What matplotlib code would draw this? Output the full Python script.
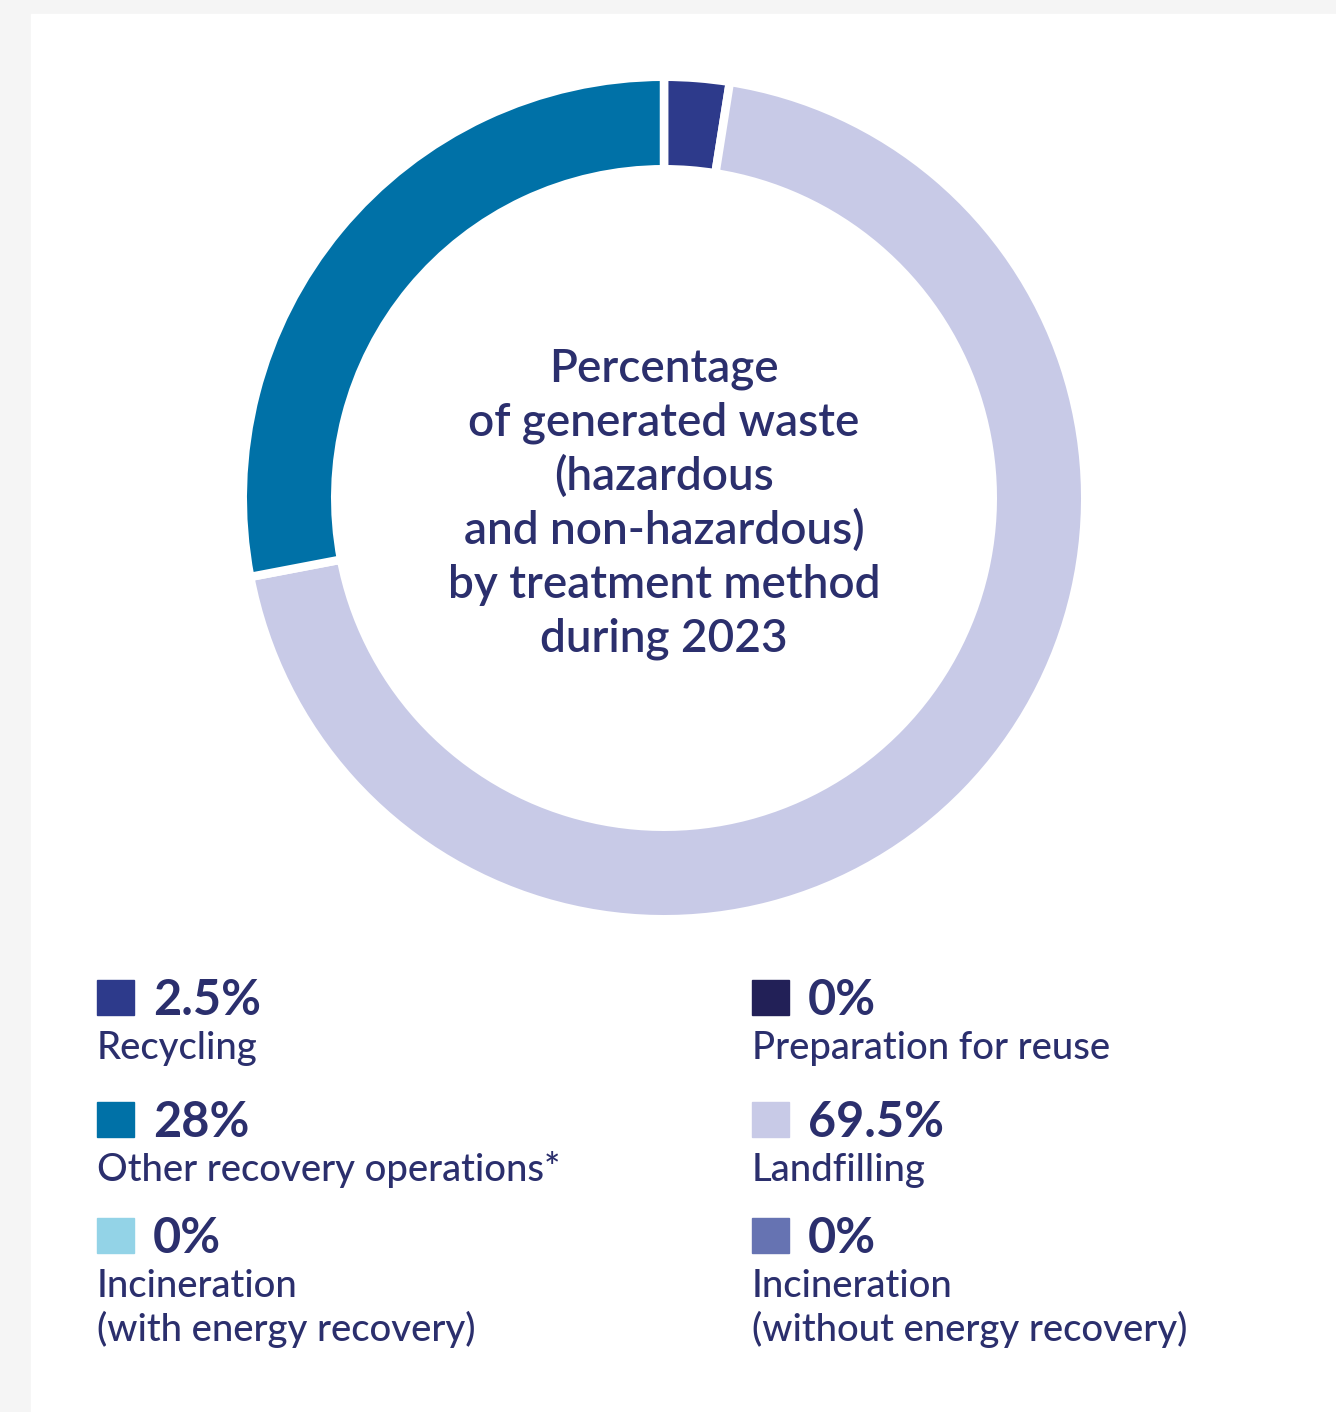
import matplotlib.pyplot as plt

# waste treatment shares for 2023, in percent
methods = ["Recycling", "Other recovery operations*", "Incineration\n(with energy recovery)",
           "Preparation for reuse", "Landfilling", "Incineration\n(without energy recovery)"]
shares = [2.5, 28, 0, 0, 69.5, 0]
colors = ["#2d3a8b", "#0071a7", "#93d3e7", "#222057", "#c8cae7", "#6673b2"]

# clockwise order of the ring, starting at 12 o'clock
ring_order = ["Recycling", "Landfilling", "Other recovery operations*"]

title_lines = ["Percentage", "of generated waste", "(hazardous",
               "and non-hazardous)", "by treatment method", "during 2023"]

TEXT = "#2b2f6d"
W, H = 1336, 1412

plt.rcParams['font.family'] = ['Lato', 'DejaVu Sans']

fig = plt.figure(figsize=(W / 100, H / 100), dpi=100)
fig.patch.set_facecolor("#f5f5f5")

# full-size axes in pixel units for the panel and all text
bg = fig.add_axes([0, 0, 1, 1])
bg.set_xlim(0, W)
bg.set_ylim(H, 0)
bg.axis("off")
bg.add_patch(plt.Rectangle((31, 14), W - 31, H - 14, color="white", zorder=0))

# donut
cx, cy, r_out, ring = 664, 498, 417, 84
gap = 8.5  # px of white between wedges
pie_ax = fig.add_axes([(cx - r_out) / W, (H - cy - r_out) / H, 2 * r_out / W, 2 * r_out / H])
vals = [shares[methods.index(m)] for m in ring_order]
cols = [colors[methods.index(m)] for m in ring_order]
pie_ax.pie(vals, colors=cols, startangle=90, counterclock=False,
           radius=(r_out + gap / 2) / r_out, normalize=True,
           wedgeprops=dict(width=(ring + gap) / r_out, edgecolor="white",
                           linewidth=gap * 72 / 100, joinstyle="miter"))
pie_ax.set_xlim(-1, 1)
pie_ax.set_ylim(-1, 1)
pie_ax.axis("off")

# centre title
for i, line in enumerate(title_lines):
    bg.text(cx, 382 + i * 54, line, ha="center", va="baseline",
            fontsize=33, color=TEXT, fontweight="semibold")

# legend: two columns of three
col_x = [97, 752]
row_y = [1015, 1137, 1253]
for k, (name, val, c) in enumerate(zip(methods, shares, colors)):
    x = col_x[k // 3]
    y = row_y[k % 3]
    bg.add_patch(plt.Rectangle((x, y - 35), 37, 35, color=c))
    bg.text(x + 56, y, f"{val:g}%", ha="left", va="baseline",
            fontsize=35, fontweight="bold", color=TEXT)
    for j, part in enumerate(name.split("\n")):
        bg.text(x, y + 44 + j * 44, part, ha="left", va="baseline",
                fontsize=27.5, color=TEXT, fontweight="medium")

fig.savefig("out.png", dpi=100, facecolor=fig.get_facecolor())
